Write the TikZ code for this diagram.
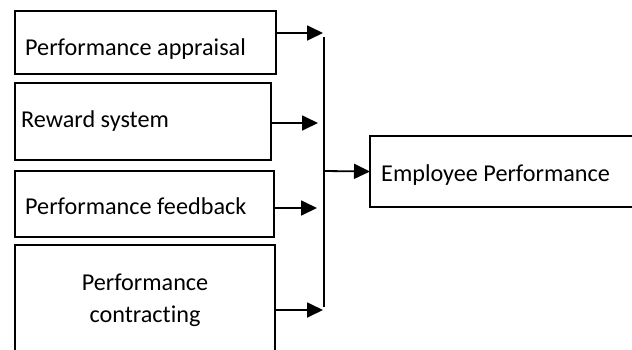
\documentclass[tikz,border=0pt]{standalone}
\usepackage{fontspec}
\setmainfont[Ligatures=NoCommon]{Carlito}
\usetikzlibrary{arrows.meta}
\begin{document}
\begin{tikzpicture}[x=1pt,y=-1pt,
  box/.style={draw=black,line width=1.8pt,rectangle,inner sep=0pt,outer sep=0pt},
  lbl/.style={anchor=base west,inner sep=0pt,font=\fontsize{24.2}{29}\selectfont},
  clbl/.style={anchor=base,inner sep=0pt,font=\fontsize{24.2}{29}\selectfont},
  conn/.style={line width=1.8pt,-{Triangle[length=16pt,width=15pt]}},
  trunk/.style={line width=1.8pt}]
\useasboundingbox (0,0) rectangle (632,349);
\clip (0,0) rectangle (632,349);
% boxes
\node[box,minimum width=261pt,minimum height=63pt] (b1) at (145.5,42.5) {};
\node[box,minimum width=256pt,minimum height=77pt] (b2) at (143,121.5) {};
\node[box,minimum width=259pt,minimum height=66pt] (b3) at (144.5,204) {};
\node[box,minimum width=260pt,minimum height=125pt] (b4) at (145,307.5) {};
\node[box,minimum width=290pt,minimum height=71pt] (emp) at (515,171.5) {};
% labels
\node[lbl] (l1) at (25,55) {Performance appraisal};
\node[lbl] (l2) at (21,127) {Reward system};
\node[lbl] (l3) at (25,214) {Performance feedback};
\node[clbl] (l4a) at (145,290) {Performance};
\node[clbl] (l4b) at (145,322) {contracting};
\node[lbl] (l5) at (381,181) {Employee Performance};
% trunk coordinates
\coordinate (top) at (324,37);
\coordinate (bot) at (324,307);
\coordinate (mid) at (324,171);
\coordinate (t1) at (323,33);
\coordinate (t2) at (318,123);
\coordinate (t3) at (317,208);
\coordinate (t4) at (323,310);
% connectors
\draw[trunk] (top) -- (bot);
\draw[conn] (b1.east |- t1) -- (t1);
\draw[conn] (b2.east |- t2) -- (t2);
\draw[conn] (b3.east |- t3) -- (t3);
\draw[conn] (b4.east |- t4) -- (t4);
\draw[conn] (mid) -- (emp.west);
\end{tikzpicture}
\end{document}
